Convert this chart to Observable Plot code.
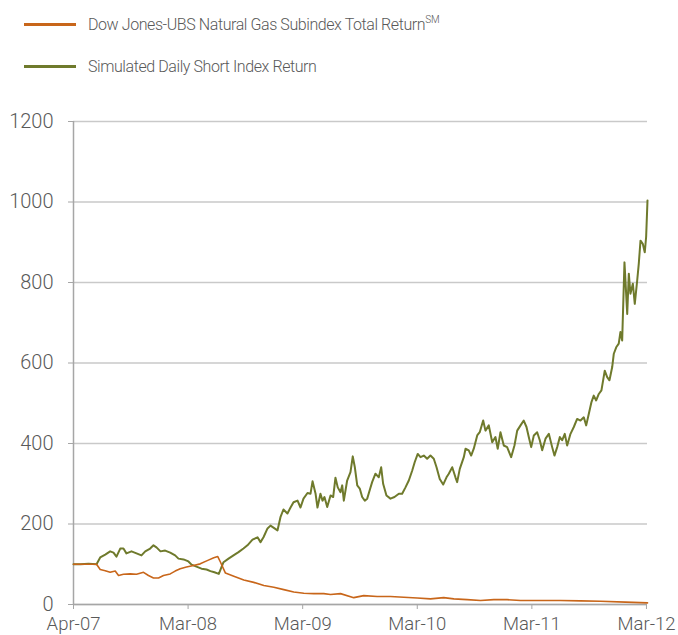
<!DOCTYPE html>
<html>
<head>
<meta charset="utf-8">
<script src="https://cdn.jsdelivr.net/npm/d3@7"></script>
<script src="https://cdn.jsdelivr.net/npm/@observablehq/plot@0.6"></script>
<style>
  html, body { margin: 0; padding: 0; background: #fff; }
  body { width: 678px; height: 635px; overflow: hidden; font-family: Roboto, Lato, sans-serif; font-weight: 300; color: #595959; }
  #legend { position: relative; height: 95px; }
  .item { position: absolute; left: 24px; display: flex; align-items: center; white-space: nowrap; }
  .swatch { width: 52px; height: 3px; margin-right: 12px; }
  .label { font-family: Roboto, Lato, sans-serif; font-weight: 300; font-size: 16px; letter-spacing: -0.42px; }
  .label sup { font-size: 10px; vertical-align: 7px; letter-spacing: 0; }
  #chart svg { display: block; }
</style>
</head>
<body>
<div id="legend"></div>
<div id="chart"></div>
<script>
// ---- data (decimal years, index values) ----
const seriesNames = [
  "Dow Jones-UBS Natural Gas Subindex Total Return",
  "Simulated Daily Short Index Return"
];
const seriesColors = ["#c8661a", "#6f7a2c"];

const tickYears = [2007.25, 2008.25, 2009.25, 2010.25, 2011.25, 2012.25];
const tickLabels = ["Apr-07", "Mar-08", "Mar-09", "Mar-10", "Mar-11", "Mar-12"];
const yTicks = [0, 200, 400, 600, 800, 1000, 1200];

const gasIndexYears = [
  2007.250, 2007.381, 2007.451, 2007.483, 2007.527, 2007.570, 2007.614, 2007.643, 2007.686, 2007.745,
  2007.800, 2007.861, 2007.904, 2007.948, 2007.992, 2008.035, 2008.094, 2008.137, 2008.181, 2008.236,
  2008.297, 2008.356, 2008.417, 2008.474, 2008.509, 2008.533, 2008.576, 2008.649, 2008.736, 2008.823,
  2008.911, 2008.998, 2009.085, 2009.172, 2009.260, 2009.347, 2009.434, 2009.493, 2009.580, 2009.696,
  2009.783, 2009.900, 2010.016, 2010.132, 2010.249, 2010.365, 2010.481, 2010.569, 2010.685, 2010.802,
  2010.918, 2011.034, 2011.151, 2011.267, 2011.384, 2011.500, 2011.674, 2011.849, 2012.067, 2012.259
];
const gasIndexValues = [
  100, 100, 100, 87, 84, 80, 83, 72, 75, 76,
  75, 80, 72, 66, 66, 72, 76, 83, 89, 93,
  97, 101, 109, 116, 119, 105, 78, 70, 61, 55,
  47, 43, 37, 31, 28, 27, 27, 25, 27, 17,
  22, 20, 20, 18, 16, 14, 17, 14, 12, 10,
  12, 12, 10, 10, 10, 10, 9, 8, 6, 4
];

const shortYears = [
  2007.250, 2007.311, 2007.381, 2007.451, 2007.483, 2007.527, 2007.570, 2007.599, 2007.625, 2007.658,
  2007.686, 2007.712, 2007.756, 2007.800, 2007.843, 2007.876, 2007.919, 2007.948, 2007.974, 2008.009,
  2008.050, 2008.094, 2008.137, 2008.166, 2008.210, 2008.253, 2008.280, 2008.323, 2008.367, 2008.411,
  2008.445, 2008.480, 2008.518, 2008.559, 2008.603, 2008.646, 2008.690, 2008.733, 2008.768, 2008.812,
  2008.856, 2008.882, 2008.908, 2008.943, 2008.969, 2008.995, 2009.030, 2009.056, 2009.082, 2009.117,
  2009.144, 2009.170, 2009.205, 2009.231, 2009.257, 2009.292, 2009.318, 2009.336, 2009.362, 2009.379,
  2009.405, 2009.423, 2009.440, 2009.464, 2009.493, 2009.516, 2009.536, 2009.556, 2009.580, 2009.595,
  2009.609, 2009.638, 2009.667, 2009.687, 2009.705, 2009.726, 2009.748, 2009.769, 2009.792, 2009.813,
  2009.836, 2009.856, 2009.885, 2009.914, 2009.935, 2009.952, 2009.981, 2010.016, 2010.051, 2010.089,
  2010.118, 2010.147, 2010.176, 2010.206, 2010.228, 2010.254, 2010.278, 2010.307, 2010.336, 2010.365,
  2010.394, 2010.418, 2010.446, 2010.476, 2010.505, 2010.525, 2010.555, 2010.583, 2010.598, 2010.621,
  2010.656, 2010.671, 2010.699, 2010.720, 2010.743, 2010.773, 2010.795, 2010.825, 2010.845, 2010.874,
  2010.904, 2010.932, 2010.952, 2010.976, 2011.005, 2011.034, 2011.069, 2011.098, 2011.122, 2011.151,
  2011.179, 2011.203, 2011.223, 2011.244, 2011.267, 2011.296, 2011.319, 2011.340, 2011.369, 2011.398,
  2011.427, 2011.447, 2011.471, 2011.494, 2011.514, 2011.537, 2011.558, 2011.587, 2011.616, 2011.645,
  2011.674, 2011.703, 2011.724, 2011.747, 2011.770, 2011.790, 2011.811, 2011.834, 2011.857, 2011.886,
  2011.907, 2011.927, 2011.951, 2011.965, 2011.986, 2012.008, 2012.023, 2012.038, 2012.058, 2012.082,
  2012.096, 2012.110, 2012.131, 2012.148, 2012.169, 2012.183, 2012.198, 2012.218, 2012.235, 2012.247,
  2012.259
];
const shortValues = [
  100, 100, 101, 100, 117, 124, 132, 129, 119, 139,
  139, 127, 132, 127, 122, 132, 139, 147, 142, 132,
  134, 129, 122, 114, 112, 107, 99, 94, 89, 87,
  83, 80, 76, 105, 114, 122, 130, 139, 147, 161,
  167, 155, 167, 189, 196, 191, 184, 217, 236, 226,
  241, 254, 258, 241, 263, 277, 275, 306, 276, 241,
  275, 258, 267, 242, 271, 267, 315, 291, 279, 296,
  258, 308, 329, 368, 341, 296, 288, 267, 258, 263,
  285, 304, 325, 316, 341, 300, 271, 263, 267, 275,
  275, 291, 308, 333, 354, 374, 366, 370, 362, 370,
  362, 341, 312, 298, 316, 325, 341, 316, 304, 337,
  366, 387, 383, 370, 387, 420, 428, 457, 432, 445,
  403, 416, 387, 428, 395, 391, 366, 395, 432, 445,
  457, 441, 416, 391, 420, 428, 408, 383, 412, 424,
  391, 370, 391, 416, 408, 424, 395, 424, 441, 461,
  457, 465, 445, 474, 503, 519, 507, 523, 532, 581,
  565, 557, 590, 623, 639, 648, 677, 656, 850, 722,
  822, 772, 797, 747, 805, 847, 904, 896, 875, 913,
  1004
];

// ---- legend ----
const legend = document.getElementById("legend");
const legendTops = [14, 57];
seriesNames.forEach((name, i) => {
  const item = document.createElement("div");
  item.className = "item";
  item.style.top = legendTops[i] + "px";
  const sw = document.createElement("div");
  sw.className = "swatch";
  sw.style.background = seriesColors[i];
  const lab = document.createElement("span");
  lab.className = "label";
  lab.innerHTML = name + (i === 0 ? "<sup>SM</sup>" : "");
  item.append(sw, lab);
  legend.append(item);
});

// ---- chart ----
const gasData = gasIndexYears.map((t, i) => ({t, v: gasIndexValues[i]}));
const shortData = shortYears.map((t, i) => ({t, v: shortValues[i]}));

const chart = Plot.plot({
  width: 678,
  height: 540,
  marginLeft: 73,
  marginRight: 31,
  marginTop: 26,
  marginBottom: 31,
  style: {fontFamily: "Roboto, Lato, sans-serif", fontWeight: 300, color: "#595959", background: "#fff"},
  x: {domain: [2007.25, 2012.259]},
  y: {domain: [0, 1200]},
  marks: [
    Plot.gridY(yTicks, {stroke: "#c9c9c9", strokeOpacity: 1, strokeWidth: 1.5}),
    Plot.ruleY([0], {stroke: "#a6a6a6", strokeWidth: 1.5}),
    Plot.ruleX([2007.25], {stroke: "#a6a6a6", strokeWidth: 1.5}),
    Plot.axisY(yTicks, {tickSize: 5, tickPadding: 15, fontSize: 20, label: null, stroke: "#a6a6a6", fill: "#595959",
      tickFormat: (d) => String(d)}),
    Plot.axisX(tickYears, {tickSize: 5, tickPadding: 7, fontSize: 18.5, label: null, stroke: "#a6a6a6", fill: "#595959",
      tickFormat: (d) => tickLabels[tickYears.indexOf(d)]}),
    Plot.line(shortData, {x: "t", y: "v", stroke: seriesColors[1], strokeWidth: 2}),
    Plot.line(gasData, {x: "t", y: "v", stroke: seriesColors[0], strokeWidth: 1.6})
  ]
});
document.getElementById("chart").append(chart);
</script>
</body>
</html>
